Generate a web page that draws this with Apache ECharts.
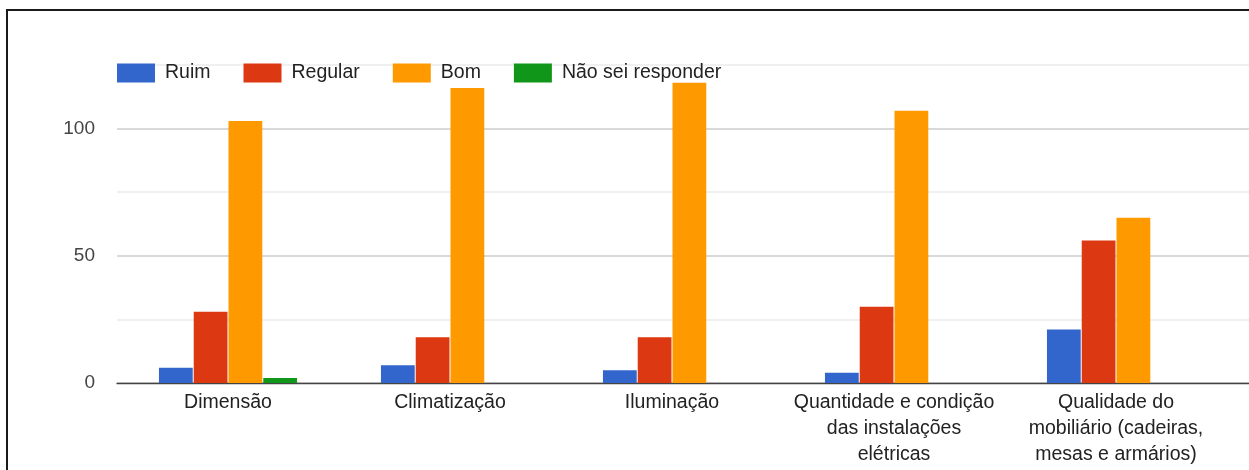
<!DOCTYPE html>
<html>
<head>
<meta charset="utf-8">
<script src="https://cdn.jsdelivr.net/npm/echarts@6/dist/echarts.min.js"></script>
<style>
  html, body { margin: 0; padding: 0; background: #fff; }
  #wrap { position: relative; width: 1249px; height: 470px; overflow: hidden; }
  #chart { position: absolute; left: 0; top: 0; width: 1249px; height: 470px; }
  #frame { position: absolute; left: 6px; top: 9px; width: 1260px; height: 480px;
           border-left: 2px solid #1a1a1a; border-top: 2px solid #1a1a1a; pointer-events: none; }
</style>
</head>
<body>
<div id="wrap">
  <div id="chart"></div>
  <div id="frame"></div>
</div>
<script>
// Avaliação da infraestrutura por aspecto
const categories = [
  'Dimensão',
  'Climatização',
  'Iluminação',
  'Quantidade e condição\ndas instalações\nelétricas',
  'Qualidade do\nmobiliário (cadeiras,\nmesas e armários)'
];
const seriesNames = ['Ruim', 'Regular', 'Bom', 'Não sei responder'];
const ruim    = [6, 7, 5, 4, 21];
const regular = [28, 18, 18, 30, 56];
const bom     = [103, 116, 118, 107, 65];
const naoSei  = [2, 0, 0, 0, 0];
const yTickLabels = [0, 50, 100];

const colors = ['#3366cc', '#dc3912', '#ff9900', '#109618'];
const values = [ruim, regular, bom, naoSei];
const font = '"Liberation Sans", Arial, sans-serif';

const chart = echarts.init(document.getElementById('chart'));
chart.setOption({
  animation: false,
  color: colors,
  textStyle: { fontFamily: font },
  legend: {
    left: 117, top: 63, padding: 0,
    itemWidth: 38, itemHeight: 19, itemGap: 33,
    icon: 'rect',
    textStyle: { fontSize: 19.5, color: '#222', fontFamily: font, padding: [0, 0, 0, 5] },
    data: seriesNames
  },
  grid: [
    { left: 117, right: 0, top: 65, bottom: 87 },
    { left: 117, right: 22, top: 65, bottom: 87 }
  ],
  xAxis: [
    {
      gridIndex: 0, type: 'value', min: 0, max: 1,
      axisLine: { show: true, lineStyle: { color: '#444', width: 1.3 } },
      axisTick: { show: false }, axisLabel: { show: false }, splitLine: { show: false }
    },
    {
      gridIndex: 1, type: 'category', data: categories,
      axisLine: { show: false }, axisTick: { show: false },
      axisLabel: {
        interval: 0, margin: 7, fontSize: 19.5, lineHeight: 26,
        color: '#222', fontFamily: font, align: 'center'
      }
    }
  ],
  yAxis: [
    {
      gridIndex: 0, type: 'value', min: 0, max: 125, interval: 25,
      axisLine: { show: false }, axisTick: { show: false },
      axisLabel: {
        margin: 22, fontSize: 19, color: '#444', fontFamily: font,
        formatter: v => (yTickLabels.indexOf(v) >= 0 ? String(v) : '')
      },
      splitLine: { lineStyle: { color: ['#cccccc', '#ebebeb'], width: 1.5 } }
    },
    {
      gridIndex: 1, type: 'value', min: 0, max: 125, interval: 25,
      show: false
    }
  ],
  series: seriesNames.map((name, i) => ({
    name,
    type: 'bar',
    xAxisIndex: 1,
    yAxisIndex: 1,
    data: values[i],
    barGap: '3%',
    barCategoryGap: '37.8%',
    itemStyle: { color: colors[i] }
  }))
});
</script>
</body>
</html>
